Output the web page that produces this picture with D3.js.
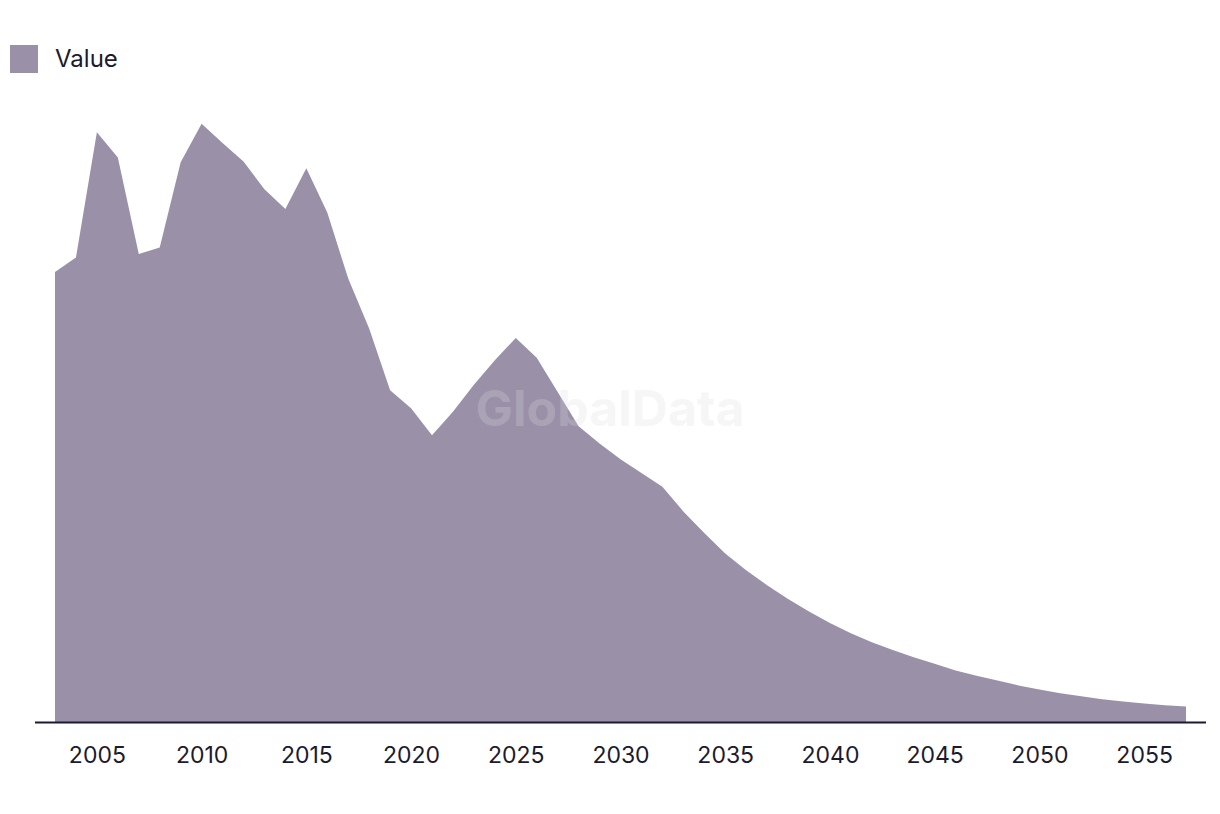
<!DOCTYPE html>
<html>
<head>
<meta charset="utf-8">
<script src="https://cdn.jsdelivr.net/npm/d3@7"></script>
<style>
  html, body { margin: 0; padding: 0; background: #ffffff; }
  svg { display: block; }
</style>
</head>
<body>
<svg id="chart" width="1220" height="814"></svg>
<script>
const years = [
  2003, 2004, 2005, 2006, 2007, 2008, 2009, 2010, 2011, 2012,
  2013, 2014, 2015, 2016, 2017, 2018, 2019, 2020, 2021, 2022,
  2023, 2024, 2025, 2026, 2027, 2028, 2029, 2030, 2031, 2032,
  2033, 2034, 2035, 2036, 2037, 2038, 2039, 2040, 2041, 2042,
  2043, 2044, 2045, 2046, 2047, 2048, 2049, 2050, 2051, 2052,
  2053, 2054, 2055, 2056, 2057
];
const values = [
  75.0, 77.4, 98.3, 94.1, 78.0, 79.1, 93.3, 99.7, 96.5, 93.4,
  88.8, 85.5, 92.3, 84.9, 73.9, 65.6, 55.3, 52.3, 47.8, 51.7,
  56.2, 60.3, 64.0, 60.7, 55.0, 49.3, 46.4, 43.8, 41.5, 39.2,
  35.1, 31.5, 28.1, 25.3, 22.8, 20.5, 18.4, 16.5, 14.8, 13.3,
  12.0, 10.8, 9.7, 8.6, 7.7, 6.9, 6.1, 5.4, 4.8, 4.3,
  3.8, 3.4, 3.1, 2.8, 2.6
];
const tickYears = [2005, 2010, 2015, 2020, 2025, 2030, 2035, 2040, 2045, 2050, 2055];
const seriesName = "Value";

const data = years.map((y, i) => ({ year: y, value: values[i] }));

const svg = d3.select("#chart");
const fillColor = "#9a91a9";
const inkColor = "#1c1a2e";
const fontFamily = "Inter, 'Liberation Sans', Arial, sans-serif";

const x = d3.scaleLinear().domain([2003, 2057]).range([55, 1186]);
const y = d3.scaleLinear().domain([0, 100]).range([722, 122]);

const area = d3.area()
  .x(d => x(d.year))
  .y0(y(0))
  .y1(d => y(d.value));

svg.append("path")
  .datum(data)
  .attr("d", area)
  .attr("fill", fillColor);

// watermark
svg.append("text")
  .attr("x", 610)
  .attr("y", 426)
  .attr("text-anchor", "middle")
  .attr("font-family", fontFamily)
  .attr("font-weight", 700)
  .attr("font-size", 50)
  .attr("fill", "#dcdcdc")
  .attr("fill-opacity", 0.25)
  .text("GlobalData");

// x axis
const xAxis = d3.axisBottom(x)
  .tickValues(tickYears)
  .tickFormat(d3.format("d"))
  .tickSize(0)
  .tickPadding(25);

const gx = svg.append("g")
  .attr("transform", `translate(0,${y(0)})`)
  .call(xAxis);
gx.select(".domain").remove();
gx.selectAll("text")
  .attr("font-family", fontFamily)
  .attr("font-size", 23)
  .attr("fill", inkColor);

svg.append("line")
  .attr("x1", 35).attr("x2", 1206)
  .attr("y1", y(0) + 0.5).attr("y2", y(0) + 0.5)
  .attr("stroke", inkColor)
  .attr("stroke-width", 2);

// legend
const legend = svg.append("g").attr("transform", "translate(10,45)");
legend.append("rect")
  .attr("width", 28).attr("height", 28)
  .attr("fill", fillColor);
legend.append("text")
  .attr("x", 45).attr("y", 14)
  .attr("dy", "0.35em")
  .attr("font-family", fontFamily)
  .attr("font-size", 24)
  .attr("fill", inkColor)
  .text(seriesName);
</script>
</body>
</html>
